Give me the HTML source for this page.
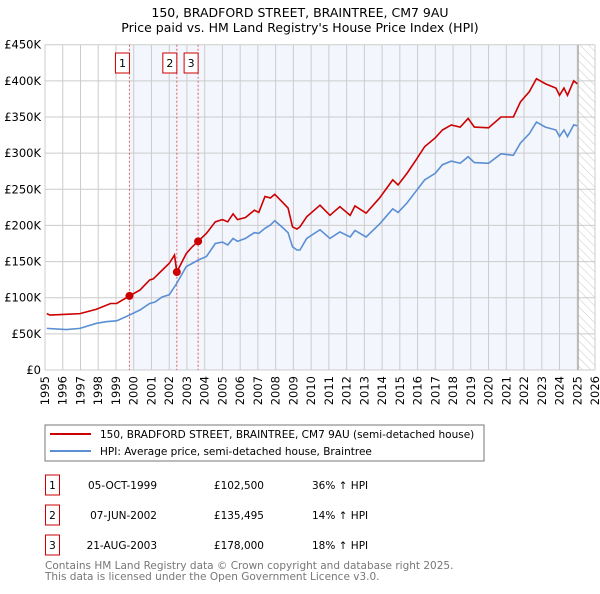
<!DOCTYPE html>
<html><head><meta charset="utf-8"><style>
body{margin:0;background:#fff;width:600px;height:590px;overflow:hidden;font-family:"DejaVu Sans","Liberation Sans",sans-serif;}
svg text{font-family:"DejaVu Sans","Liberation Sans",sans-serif;}
</style></head><body>
<svg id="c" width="600" height="590" xmlns="http://www.w3.org/2000/svg">
<defs><pattern id="hatch" width="6" height="6" patternUnits="userSpaceOnUse" patternTransform="rotate(-45)"><line x1="0" y1="0" x2="0" y2="6" stroke="#bbb" stroke-width="0.8"/></pattern></defs>
<text x="300" y="17" text-anchor="middle" font-size="12.5">150, BRADFORD STREET, BRAINTREE, CM7 9AU</text>
<text x="300" y="32" text-anchor="middle" font-size="12.5">Price paid vs. HM Land Registry's House Price Index (HPI)</text>
<g id="plot"></g>
<rect x="45" y="425" width="439" height="36" fill="#fff" stroke="#777"/>
<line x1="50" y1="434" x2="91" y2="434" stroke="#cc0000" stroke-width="2"/>
<text x="100" y="438" font-size="10.5">150, BRADFORD STREET, BRAINTREE, CM7 9AU (semi-detached house)</text>
<line x1="50" y1="451" x2="91" y2="451" stroke="#5b8fd4" stroke-width="2"/>
<text x="100" y="455" font-size="10.5">HPI: Average price, semi-detached house, Braintree</text>
<g id="table" font-size="10.5"></g>
<text x="45" y="569" font-size="10.5" fill="#777">Contains HM Land Registry data © Crown copyright and database right 2025.</text>
<text x="45" y="580" font-size="10.5" fill="#777">This data is licensed under the Open Government Licence v3.0.</text>
</svg>
<script>
const redYears=[1995.1,1995.28,1996.2,1996.97,1997.9,1998.7,1999.04,1999.76,2000.35,2000.9,2001.1,2001.6,2002.0,2002.3,2002.43,2002.96,2003.3,2003.63,2004.1,2004.6,2005.0,2005.3,2005.6,2005.85,2006.3,2006.8,2007.05,2007.4,2007.7,2007.95,2008.35,2008.7,2008.95,2009.2,2009.37,2009.75,2010.5,2011.06,2011.62,2012.2,2012.47,2013.1,2013.86,2014.6,2014.9,2015.4,2015.9,2016.4,2016.99,2017.4,2017.9,2018.4,2018.85,2019.2,2020.0,2020.7,2021.4,2021.8,2022.3,2022.7,2023.2,2023.8,2024.0,2024.25,2024.45,2024.8,2025.0];
const redValues=[78,76,77,78,84,92,92,102.5,110.6,124.5,126,138,147.5,159,135.5,161,170.5,178,189,205,208,205,216,208,211,221,218,240,238,243,233,224,198,195,198,212,228,214,226,214,227,217,238,263,256,272,290,309,321,332,339,336,348,336,335,350,350,371,385,403,396,390,380,390,380,400,396];
const hpiYears=[1995.1,1996.2,1996.97,1997.9,1998.5,1999.04,1999.76,2000.35,2000.9,2001.2,2001.6,2002.0,2002.43,2002.96,2003.3,2003.63,2004.1,2004.6,2005.0,2005.3,2005.6,2005.85,2006.3,2006.8,2007.05,2007.4,2007.7,2007.95,2008.35,2008.7,2008.95,2009.2,2009.37,2009.75,2010.5,2011.06,2011.62,2012.2,2012.47,2013.1,2013.86,2014.6,2014.9,2015.4,2015.9,2016.4,2016.99,2017.4,2017.9,2018.4,2018.85,2019.2,2020.0,2020.7,2021.4,2021.8,2022.3,2022.7,2023.2,2023.8,2024.0,2024.25,2024.45,2024.8,2025.0];
const hpiValues=[57.6,56,57.6,64.6,67,68,76,83,92,94,101,104,120,143,147.5,152,157,175,177,173,182,178,182,190,189,196,200.5,206.5,198,190,170.5,166,166,182,194,182,191,184,193,184,202,223,218,231,247,263,272,284,289,286,295,287,286,299,297,314,327,343,336,332,323,332,323,339,338];
const saleYears=[1999.76,2002.43,2003.63];
const salePrices=[102.5,135.495,178];
const saleLabels=["1","2","3"];
const saleDates=["05-OCT-1999","07-JUN-2002","21-AUG-2003"];
const salePriceText=["£102,500","£135,495","£178,000"];
const saleHpiText=["36% ↑ HPI","14% ↑ HPI","18% ↑ HPI"];
const yTicks=[0,50,100,150,200,250,300,350,400,450];
const yTickLabels=["£0","£50K","£100K","£150K","£200K","£250K","£300K","£350K","£400K","£450K"];

const NS="http://www.w3.org/2000/svg";
const X0=45,X1=595,Y0=370,Y1=44.7,END=2025.05;
const xs=y=>X0+(y-1995)/(2026-1995)*(X1-X0);
const ys=v=>Y0-v/450*(Y0-Y1);
const plot=document.getElementById('plot');
function mk(tag,at,parent){const e=document.createElementNS(NS,tag);for(const k in at)e.setAttribute(k,at[k]);(parent||plot).appendChild(e);return e;}
let e;
e=mk('rect',{x:xs(saleYears[0]),y:Y1,width:xs(END)-xs(saleYears[0]),height:Y0-Y1,fill:'#f3f6fd'});


e=mk('rect',{x:xs(END),y:Y1,width:X1-xs(END),height:Y0-Y1,fill:'url(#hatch)'});


for(let yr=1995;yr<=2026;yr++){
 e=mk('line',{x1:xs(yr),x2:xs(yr),y1:Y1,y2:Y0,stroke:'#ccc','stroke-width':1});
 
 
 e=mk('text',{x:0,y:0,'font-size':11.5,'text-anchor':'end',transform:`translate(${xs(yr)+4},${Y0+6}) rotate(-90)`});
 e.textContent=yr;
 
 
}
yTicks.forEach((v,i)=>{
 e=mk('line',{x1:X0,x2:X1,y1:ys(v),y2:ys(v),stroke:'#ccc','stroke-width':1});
 
 
 e=mk('text',{x:X0-4,y:ys(v)+4,'font-size':11.5,'text-anchor':'end'});
 e.textContent=yTickLabels[i];
 
 
});
e=mk('line',{x1:xs(END),x2:xs(END),y1:Y1,y2:Y0,stroke:'#999','stroke-width':1});


saleYears.forEach((yr,i)=>{
 e=mk('line',{x1:xs(yr),x2:xs(yr),y1:Y1,y2:Y0,stroke:'#e06060','stroke-width':1,'stroke-dasharray':'2,2'});
 
 
 e=mk('rect',{x:xs(yr)-14,y:53,width:14,height:20,fill:'#fff',stroke:'#cc0000'});
 
 
 e=mk('text',{x:xs(yr)-7,y:67,'font-size':11,'text-anchor':'middle'});
 e.textContent=saleLabels[i];
 
 
});
e=mk('polyline',{points:hpiYears.map((y,i)=>xs(y)+','+ys(hpiValues[i])).join(' '),fill:'none',stroke:'#5b8fd4','stroke-width':1.6});


e=mk('polyline',{points:redYears.map((y,i)=>xs(y)+','+ys(redValues[i])).join(' '),fill:'none',stroke:'#cc0000','stroke-width':1.6});


saleYears.forEach((yr,i)=>{
 e=mk('circle',{cx:xs(yr),cy:ys(salePrices[i]),r:4,fill:'#cc0000'});
 
 
});
const tb=document.getElementById('table');
saleYears.forEach((yr,i)=>{
 const cy=485+i*30;
 e=mk('rect',{x:45.5,y:cy-10,width:14,height:20,fill:'#fff',stroke:'#cc0000'},tb);
 
 
 e=mk('text',{x:52.5,y:cy+4,'text-anchor':'middle'},tb);e.textContent=saleLabels[i];
 
 
 e=mk('text',{x:157,y:cy+4,'text-anchor':'end'},tb);e.textContent=saleDates[i];
 
 
 e=mk('text',{x:264,y:cy+4,'text-anchor':'end'},tb);e.textContent=salePriceText[i];
 
 
 e=mk('text',{x:312,y:cy+4},tb);e.textContent=saleHpiText[i];
 
 
});
</script>
</body></html>
